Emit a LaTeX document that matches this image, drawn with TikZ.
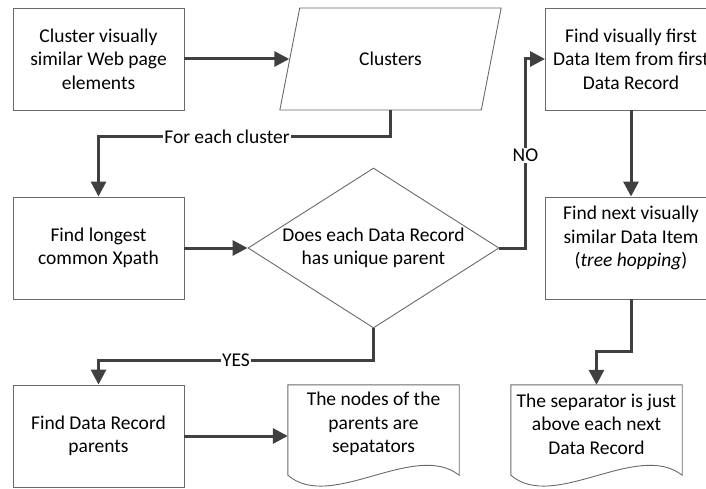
\documentclass[tikz,border=0pt]{standalone}
\usepackage{fontspec}
\setmainfont{Carlito}
\usetikzlibrary{arrows.meta,shapes.geometric,calc}
\definecolor{flowgray}{HTML}{404040}
\definecolor{edgegray}{HTML}{6A6A6A}

\begin{document}
\begin{tikzpicture}[x=1pt, y=-1pt,
  every node/.style={font=\fontsize{19.5}{23.5}\selectfont, text=black},
  box/.style={draw=edgegray, line width=0.9pt, minimum width=171pt, minimum height=102pt, inner sep=0pt, align=center},
  datashape/.style={draw=edgegray, line width=0.9pt, shape=trapezium, trapezium left angle=63.4, trapezium right angle=116.6, trapezium stretches=true, minimum width=223pt, minimum height=102pt, inner sep=0pt},
  choice/.style={draw=edgegray, line width=0.9pt, shape=diamond, aspect=1.57, minimum width=251pt, minimum height=160pt, inner sep=0pt, align=center},
  doctext/.style={minimum width=171pt, minimum height=78pt, inner sep=0pt, align=center},
  docline/.style={draw=edgegray, line width=0.9pt},
  flow/.style={draw=flowgray, line width=3pt, -{Triangle[length=15pt,width=15pt]}},
  flowlabel/.style={fill=white, inner sep=1pt}]
\useasboundingbox (0,0) rectangle (706,489);

\node[box] (cluster) at (98.5,59) {Cluster visually\\similar Web page\\elements};
\node[datashape] (clusters) at (390.5,59) {Clusters};
\node[box] (firstitem) at (631,59) {Find visually first\\Data Item from first\\Data Record};
\node[box] (xpath) at (98.5,248) {Find longest\\common Xpath};
\node[choice] (unique) at (373.5,248) {Does each Data Record\\has unique parent};
\node[box] (nextitem) at (631,248) {Find next visually\\similar Data Item\\(\textit{tree hopping})\\\mbox{}};
\node[box] (parents) at (98.5,436) {Find Data Record\\parents};
\node[doctext] (sepnodes) at (373.5,424) {The nodes of the\\parents are\\sepatators};
\node[doctext] (sepabove) at (596.5,424) {The separator is just\\above each next\\Data Record};

\draw[docline] (sepnodes.north west) -- (sepnodes.north east) -- ($(sepnodes.south east)+(0,12)$)
  .. controls ($(sepnodes.south east)+(-45,-23)$) and ($(sepnodes.south west)+(43,49)$) .. ($(sepnodes.south west)+(0,12)$) -- cycle;
\draw[docline] (sepabove.north west) -- (sepabove.north east) -- ($(sepabove.south east)+(0,12)$)
  .. controls ($(sepabove.south east)+(-45,-23)$) and ($(sepabove.south west)+(43,49)$) .. ($(sepabove.south west)+(0,12)$) -- cycle;

\draw[flow] (cluster) -- (clusters);
\draw[flow] (clusters.south) -- ++(0,26) -| node[flowlabel, pos=0.28] {For each cluster} (xpath.north);
\draw[flow] (xpath) -- (unique);
\draw[flow] (unique.east) -- ++(26,0) |- node[flowlabel, pos=0.245] {NO} (firstitem.west);
\draw[flow] (firstitem) -- (nextitem);
\draw[flow] (unique.south) -- ++(0,32) -| node[flowlabel, pos=0.25] {YES} (parents.north);
\draw[flow] (parents.east) -- (parents.east -| sepnodes.west);
\draw[flow] (nextitem.south) -- ++(0,52) -| (sepabove.north);
\end{tikzpicture}
\end{document}
